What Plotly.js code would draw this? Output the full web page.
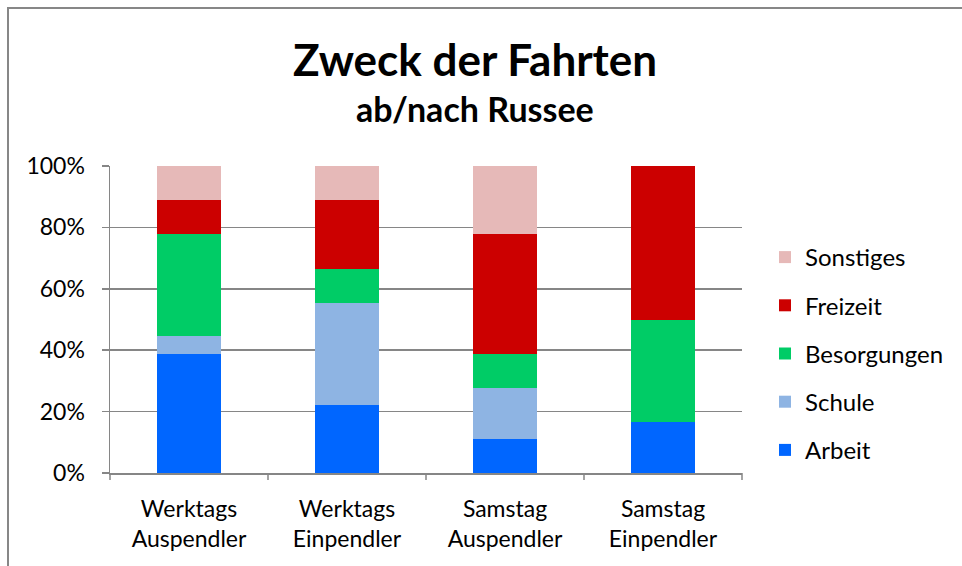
<!DOCTYPE html>
<html>
<head>
<meta charset="utf-8">
<script src="https://cdn.plot.ly/plotly-3.0.1.min.js"></script>
<style>
html,body{margin:0;padding:0;background:#fff;}
#chart{width:962px;height:566px;}
</style>
</head>
<body>
<div id="chart"></div>
<script>
const categories = ["Werktags<br>Auspendler", "Werktags<br>Einpendler", "Samstag<br>Auspendler", "Samstag<br>Einpendler"];
const seriesNames = ["Arbeit", "Schule", "Besorgungen", "Freizeit", "Sonstiges"];
const arbeit      = [38.9, 22.2, 11.1, 16.7];
const schule      = [5.6, 33.3, 16.7, 0];
const besorgungen = [33.3, 11.1, 11.1, 33.3];
const freizeit    = [11.1, 22.2, 38.9, 50.0];
const sonstiges   = [11.1, 11.1, 22.2, 0];
const yTicks = [0, 20, 40, 60, 80, 100];
const yTickLabels = ["0%", "20%", "40%", "60%", "80%", "100%"];
const colors = ["#0066FF", "#8EB4E3", "#00CC66", "#CC0000", "#E6B9B8"];

const values = [arbeit, schule, besorgungen, freizeit, sonstiges];
const FONT = "Lato, 'Open Sans', sans-serif";

const traces = seriesNames.map((n, i) => ({
  type: "bar",
  name: n,
  x: categories,
  y: values[i],
  legendgroup: n,
  legendrank: seriesNames.length - i,
  marker: {color: colors[i], line: {width: 0}},
  hoverinfo: "name+y"
}));

const L = 110, R = 220, T = 166, B = 93, W = 962, H = 566;
const pw = W - L - R, ph = H - T - B;
const px = v => (v - L) / pw;
const py = v => (H - B - v) / ph;

const layout = {
  width: W, height: H,
  margin: {l: L, r: R, t: T, b: B, pad: 0},
  barmode: "stack",
  bargap: 0.6,
  paper_bgcolor: "#fff",
  plot_bgcolor: "#fff",
  font: {family: FONT, color: "#000", size: 23},
  showlegend: true,
  legend: {
    x: px(765), y: py(235), xanchor: "left", yanchor: "top",
    traceorder: "grouped",
    tracegroupgap: 14,
    font: {family: FONT, size: 24, color: "#000"},
    itemwidth: 30
  },
  xaxis: {
    type: "category",
    showgrid: false,
    showline: true, linecolor: "#868686", linewidth: 1.5,
    ticks: "outside", ticklen: 0,
    ticklabelstandoff: 15,
    tickfont: {family: FONT, size: 23, color: "#000"},
    fixedrange: true
  },
  yaxis: {
    range: [0, 100],
    tickvals: yTicks, ticktext: yTickLabels,
    showgrid: true, gridcolor: "#868686", gridwidth: 1.5,
    showline: true, linecolor: "#868686", linewidth: 1.5,
    ticks: "outside", ticklen: 7, tickcolor: "#868686", tickwidth: 1.5,
    ticklabelstandoff: 12,
    tickfont: {family: FONT, size: 23, color: "#000"},
    zeroline: false,
    fixedrange: true
  },
  annotations: [
    {text: "<b>Zweck der Fahrten</b>", xref: "paper", yref: "paper", x: px(475), y: py(59),
     xanchor: "center", yanchor: "middle", showarrow: false, font: {family: FONT, size: 44, color: "#000"}},
    {text: "<b>ab/nach Russee</b>", xref: "paper", yref: "paper", x: px(475), y: py(109),
     xanchor: "center", yanchor: "middle", showarrow: false, font: {family: FONT, size: 34, color: "#000"}}
  ],
  shapes: [
    {type: "path", xref: "paper", yref: "paper",
     path: `M ${px(8)} ${py(570)} L ${px(8)} ${py(8)} L ${px(970)} ${py(8)}`,
     line: {color: "#878787", width: 2}}
  ].concat([0,1,2,3,4].map(i => ({
    type: "line", xref: "paper", yref: "paper",
    x0: i / 4, x1: i / 4, y0: 0, y1: py(473 + 7),
    line: {color: "#868686", width: 1.5}
  })))
};

Plotly.newPlot("chart", traces, layout, {displayModeBar: false, staticPlot: true});
</script>
</body>
</html>
